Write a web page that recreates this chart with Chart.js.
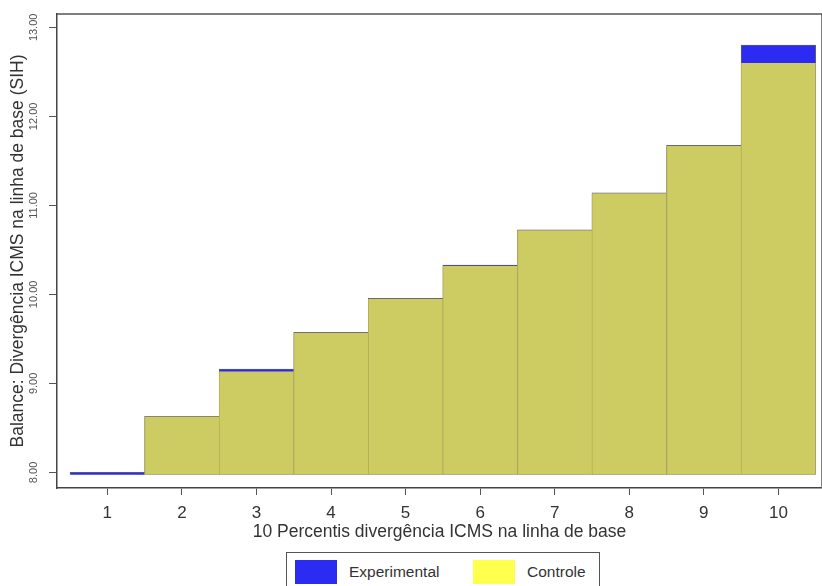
<!DOCTYPE html>
<html>
<head>
<meta charset="utf-8">
<script src="https://cdn.jsdelivr.net/npm/chart.js@4"></script>
<style>
  body { margin: 0; background: #fff; }
  #wrap { position: relative; width: 822px; height: 586px; }
  #legend {
    position: absolute; left: 286px; top: 552px; width: 314px; height: 44px;
    border: 1px solid #555; box-sizing: border-box; background: #fff;
    font-family: "Liberation Sans", Arial, sans-serif; font-size: 15.5px; color: #333;
  }
  #legend .item { position: absolute; top: 7px; height: 24px; line-height: 24px; }
  #legend .box { display: inline-block; width: 42px; height: 24px; vertical-align: top; margin-right: 12px; }
</style>
</head>
<body>
<div id="wrap">
  <canvas id="chart" width="822" height="586"></canvas>
  <div id="legend"></div>
</div>
<script>
const categories = [1, 2, 3, 4, 5, 6, 7, 8, 9, 10];
const experimental = [8.00, 8.63, 9.16, 9.575, 9.955, 10.33, 10.725, 11.14, 11.675, 12.80];
const controle = [7.975, 8.628, 9.135, 9.57, 9.95, 10.32, 10.72, 11.135, 11.67, 12.60];
const yTicks = [8, 9, 10, 11, 12, 13];
const barBase = 7.975;

const blue = '#2b2bf2';
const olive = '#cdcc62';
const yellowKey = '#ffff4d';
const font = '"Liberation Sans", Arial, sans-serif';

const frame = {
    id: 'frame',
    afterDraw(chart) {
        const { ctx, chartArea } = chart;
        ctx.save();
        ctx.strokeStyle = '#555';
        ctx.lineWidth = 1.5;
        ctx.beginPath();
        ctx.moveTo(chartArea.left, chartArea.top);
        ctx.lineTo(chartArea.right, chartArea.top);
        ctx.lineTo(chartArea.right, chartArea.bottom);
        ctx.stroke();
        ctx.restore();
    }
};

const chart = new Chart(document.getElementById('chart'), {
    type: 'bar',
    data: {
        datasets: [{
            label: 'Experimental',
            data: categories.map((c, i) => ({ x: c, y: experimental[i] })),
            backgroundColor: blue,
            borderColor: '#5a5a78',
            borderWidth: 1,
            borderSkipped: 'bottom',
            base: barBase,
            grouped: false,
            order: 2
        }, {
            label: 'Controle',
            data: categories.map((c, i) => ({ x: c, y: controle[i] })),
            backgroundColor: olive,
            borderColor: '#b3b257',
            borderWidth: { left: 1, right: 0, top: 0, bottom: 0 },
            borderSkipped: false,
            base: barBase,
            grouped: false,
            order: 1,
            legendColor: yellowKey
        }]
    },
    options: {
        responsive: false,
        animation: false,
        layout: { padding: { top: 14, left: 0, right: 0, bottom: 0 } },
        categoryPercentage: 1,
        barPercentage: 1,
        scales: {
            x: {
                type: 'linear',
                offset: false,
                min: 0.325,
                max: 10.585,
                afterBuildTicks: s => { s.ticks = categories.map(v => ({ value: v })); },
                afterFit: s => { s.height = 98; },
                ticks: {
                    color: '#333',
                    padding: 8,
                    font: { family: font, size: 17 },
                    callback: v => String(v)
                },
                grid: { offset: false, drawOnChartArea: false, drawTicks: true, tickLength: 7, color: '#555', tickWidth: 1 },
                border: { display: true, color: '#444', width: 1.5 },
                title: {
                    display: true,
                    text: '10 Percentis divergência ICMS na linha de base',
                    color: '#333',
                    font: { family: font, size: 17.5 },
                    padding: { top: 0, bottom: 43 }
                }
            },
            y: {
                type: 'linear',
                min: 7.825,
                max: 13.15,
                afterBuildTicks: s => { s.ticks = yTicks.map(v => ({ value: v })); },
                afterFit: s => { s.width = 57; },
                ticks: {
                    color: '#555',
                    minRotation: 90,
                    maxRotation: 90,
                    crossAlign: 'center',
                    padding: 1,
                    font: { family: font, size: 11 },
                    callback: v => v.toFixed(2)
                },
                grid: { drawOnChartArea: false, drawTicks: true, tickLength: 8, color: '#555', tickWidth: 1 },
                border: { display: true, color: '#444', width: 1.5 },
                title: {
                    display: true,
                    text: 'Balance: Divergência ICMS na linha de base (SIH)',
                    color: '#333',
                    font: { family: font, size: 17.5 },
                    padding: { top: 8, bottom: 0 }
                }
            }
        },
        plugins: {
            legend: { display: false },
            tooltip: { enabled: false }
        }
    },
    plugins: [frame]
});

// legend box below the plot, built from the datasets
const legendEl = document.getElementById('legend');
const legendX = [8, 186];
chart.data.datasets.forEach((ds, i) => {
    const item = document.createElement('div');
    item.className = 'item';
    item.style.left = legendX[i] + 'px';
    const box = document.createElement('span');
    box.className = 'box';
    box.style.background = ds.legendColor || ds.backgroundColor;
    item.appendChild(box);
    item.appendChild(document.createTextNode(ds.label));
    legendEl.appendChild(item);
});
</script>
</body>
</html>
